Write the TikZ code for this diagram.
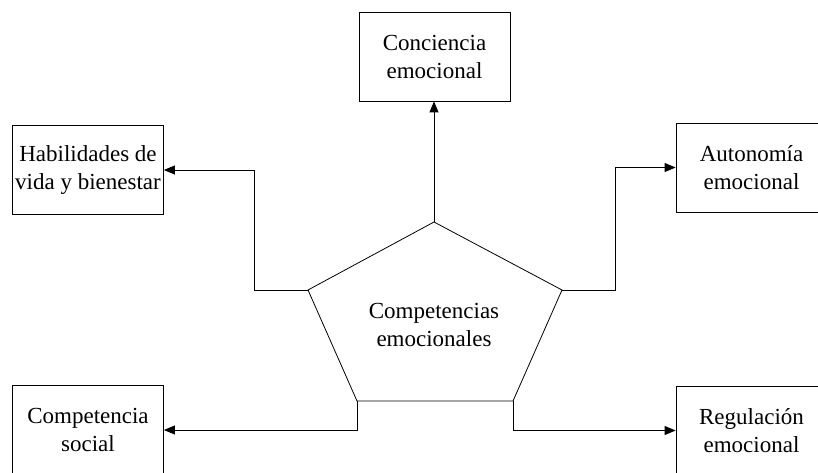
\documentclass[tikz,border=0pt]{standalone}
\usepackage{fontspec}
\setmainfont{Liberation Serif}
\usetikzlibrary{arrows.meta}
\tikzset{
  box/.style={draw, line width=0.8pt, minimum width=151pt, minimum height=89pt,
    inner sep=0pt, align=center},
  link/.style={-{Triangle[length=11pt,width=9pt]}, line width=0.8pt},
}

\begin{document}
\begin{tikzpicture}[x=1pt, y=-1pt, font=\fontsize{23}{28}\selectfont]
    \useasboundingbox (0,0) rectangle (818,473);
    \clip (0,0) rectangle (818,473);

    % pentagon
    \coordinate (ptop) at (434,222);
    \coordinate (pleft) at (308,290);
    \coordinate (pright) at (562,290);
    \coordinate (pbotl) at (357,401);
    \coordinate (pbotr) at (513,401);
    \draw[line width=0.8pt] (ptop) -- (pright) -- (pbotr) -- (pbotl) -- (pleft) -- cycle;
    \node[align=center] (core) at (434,325) {Competencias\\emocionales};

    \node[box] (conc) at (434.5,56.5) {Conciencia\\emocional};
    \node[box] (habil) at (88,170) {Habilidades de\\vida y bienestar};
    \node[box] (auton) at (751.5,167.5) {Autonomía\\emocional};
    \node[box] (social) at (88,430) {Competencia\\social};
    \node[box] (regul) at (751.5,430.5) {Regulación\\emocional};

    \draw[link] (ptop) -- (ptop |- conc.south);
    \draw[link] (pleft) -- ++(-54,0) |- (habil.east);
    \draw[link] (pright) -- ++(53,0) |- (auton.west);
    \draw[link] (pbotl) |- (social.east);
    \draw[link] (pbotr) |- (regul.west);
  \end{tikzpicture}
\end{document}
